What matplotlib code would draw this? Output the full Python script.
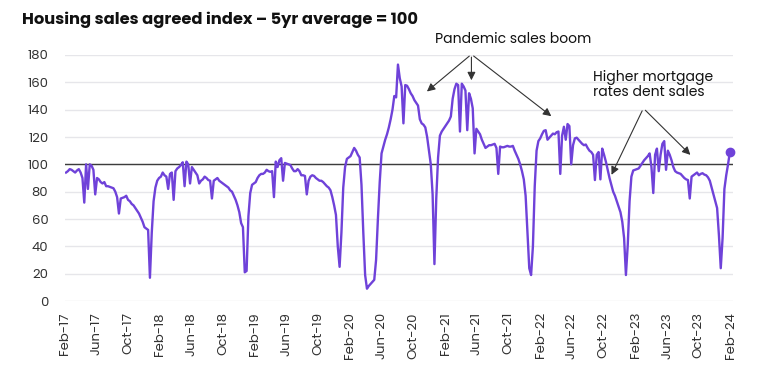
import pandas as pd
import matplotlib
matplotlib.use("Agg")
import matplotlib.pyplot as plt
import matplotlib.dates as mdates

# weekly index values, one list per Feb-Feb year
idx_2017 = [94, 95, 96.5, 96, 95, 94, 95.5, 96.5, 94, 90, 72, 100, 82, 100, 99, 96,
            78, 90, 89, 87, 86, 87, 84, 84, 83.5, 83, 82.5, 80, 76, 64, 75, 75.5,
            76, 77, 74, 73, 71, 70, 68, 66, 64, 61, 58, 54, 53, 52, 17, 50,
            73, 83, 88, 90]
idx_2018 = [91, 94, 92, 91, 82, 93, 94, 74, 95, 97, 98, 99.5, 101.5, 84, 102, 100,
            86, 98, 96, 94, 92, 86, 88, 89, 91, 90, 88.5, 88, 75, 88, 89, 90,
            88, 87, 86, 85, 84, 83, 81, 80, 77, 74, 70, 65, 57, 54, 21, 22,
            62, 79, 85, 86]
idx_2019 = [87, 90, 92, 93, 93, 94, 96, 95, 94.5, 95, 76, 102, 98, 103, 104.5, 88,
            101, 100.5, 100, 99.5, 97, 95, 95, 96.5, 95, 92, 92, 91.5, 78, 88, 91, 92,
            91.5, 90, 89, 88, 88, 87, 85.5, 84, 83, 81, 76, 70, 63, 40, 25, 50,
            83, 98, 104, 105]
idx_2020 = [106, 109, 112, 110, 107, 105, 85, 50, 19, 9, 11, 12.5, 14, 15.5, 30, 60,
            87, 108, 113, 118, 122, 127, 133, 140, 150, 149, 173, 163, 157, 130, 158, 157.5,
            155, 152, 150, 147, 145, 143, 133, 130, 129, 127, 120, 110, 100, 78, 27, 75,
            105, 121, 124, 126]
idx_2021 = [128, 130, 132, 135, 148, 155, 159, 158, 124, 159, 157, 154, 125, 152, 148, 141,
            108, 126, 124, 122, 118, 115, 112, 113, 114, 114, 114.5, 115, 112, 93, 113, 112.5,
            112.5, 113, 113.5, 113, 113, 113.5, 110, 107, 104, 100, 95, 89, 77, 50, 24, 19,
            40, 84, 110, 117]
idx_2022 = [119, 122, 124.5, 125, 118, 119.5, 121, 122.5, 122, 123.5, 124, 93, 121, 127.5, 118, 129.5,
            128, 100, 114, 119, 119.5, 118, 116.5, 115, 114, 114.5, 112, 110, 109, 107, 88.5, 107,
            109, 89, 111.5, 107, 102, 96, 90, 85, 80, 77, 73, 69, 65, 58, 46, 19,
            41, 73, 91, 95.5]
idx_2023 = [96, 96.5, 97, 99, 101, 103, 104.5, 106, 108, 98, 79, 107, 111.5, 95, 107, 115,
            117, 96, 110, 107, 103, 98, 95, 94, 93.5, 93, 91.5, 90, 89, 88.5, 75, 91,
            92, 93, 94, 92, 93, 93.5, 92.5, 92, 90.5, 88, 83, 78, 73, 68, 48, 24,
            46, 82, 92, 100, 109]

values = idx_2017 + idx_2018 + idx_2019 + idx_2020 + idx_2021 + idx_2022 + idx_2023
dates = pd.date_range("2017-02-05", periods=len(values), freq="7D")
df = pd.DataFrame({"date": dates, "index": values})

yticks = list(range(0, 181, 20))

# annotation anchors (date, value)
boom_label = ("2021-10-20", 191)
boom_origin = ("2021-05-11", 180.5)
boom_tips = [("2020-11-13", 152), ("2021-05-11", 159.5), ("2022-03-22", 134)]
rates_label = ("2022-08-19", 158)
rates_origin = ("2023-03-02", 141)
rates_tips = [("2022-10-26", 90.5), ("2023-09-06", 105.5)]

LINE = "#6f42d9"
TXT = "#333333"

plt.rcParams["font.family"] = ["Poppins", "Inter", "DejaVu Sans"]

fig = plt.figure(figsize=(7.59, 3.65), dpi=100)
ax = fig.add_axes([65 / 759, 1 - 301 / 365, (733 - 65) / 759, (301 - 55) / 365])

ax.plot(df["date"], df["index"], color=LINE, lw=1.7, zorder=3)
ax.plot(df["date"].iloc[-1], df["index"].iloc[-1], "o", color=LINE, ms=6, zorder=4, clip_on=False)
ax.axhline(100, color="#3c3c3c", lw=1, zorder=2)

ax.set_ylim(0, 180)
ax.set_yticks(yticks)
ax.set_xlim(pd.Timestamp("2017-02-01"), pd.Timestamp("2024-02-09"))
ax.xaxis.set_major_locator(mdates.MonthLocator(bymonth=[2, 6, 10]))
ax.xaxis.set_major_formatter(mdates.DateFormatter("%b-%y"))
for lab in ax.get_xticklabels():
    lab.set_rotation(90)

ax.grid(axis="y", color="#e6e6ea", lw=1)
ax.set_axisbelow(True)
for s in ax.spines.values():
    s.set_visible(False)
ax.tick_params(axis="both", length=0, colors=TXT, labelsize=9.5)
ax.tick_params(axis="y", pad=12)
ax.tick_params(axis="x", pad=8)

fig.text(22 / 759, 1 - 20 / 365, "Housing sales agreed index \u2013 5yr average = 100",
         fontsize=11.7, fontweight="bold", color="#111111", va="center", ha="left")

def d(s):
    return mdates.date2num(pd.Timestamp(s))

ax.annotate("Pandemic sales boom", xy=(d(boom_label[0]), boom_label[1]),
            ha="center", va="center", fontsize=10, color="#111111", annotation_clip=False)
for t in boom_tips:
    ax.annotate("", xy=(d(t[0]), t[1]), xytext=(d(boom_origin[0]), boom_origin[1]),
                arrowprops=dict(arrowstyle="-|>", color="#333333", lw=0.8, mutation_scale=12),
                annotation_clip=False)

ax.annotate("Higher mortgage\nrates dent sales", xy=(d(rates_label[0]), rates_label[1]),
            ha="left", va="center", fontsize=10, color="#111111", linespacing=1.05,
            annotation_clip=False)
for t in rates_tips:
    ax.annotate("", xy=(d(t[0]), t[1]), xytext=(d(rates_origin[0]), rates_origin[1]),
                arrowprops=dict(arrowstyle="-|>", color="#333333", lw=0.8, mutation_scale=12),
                annotation_clip=False)

fig.savefig("out.png", dpi=100)
